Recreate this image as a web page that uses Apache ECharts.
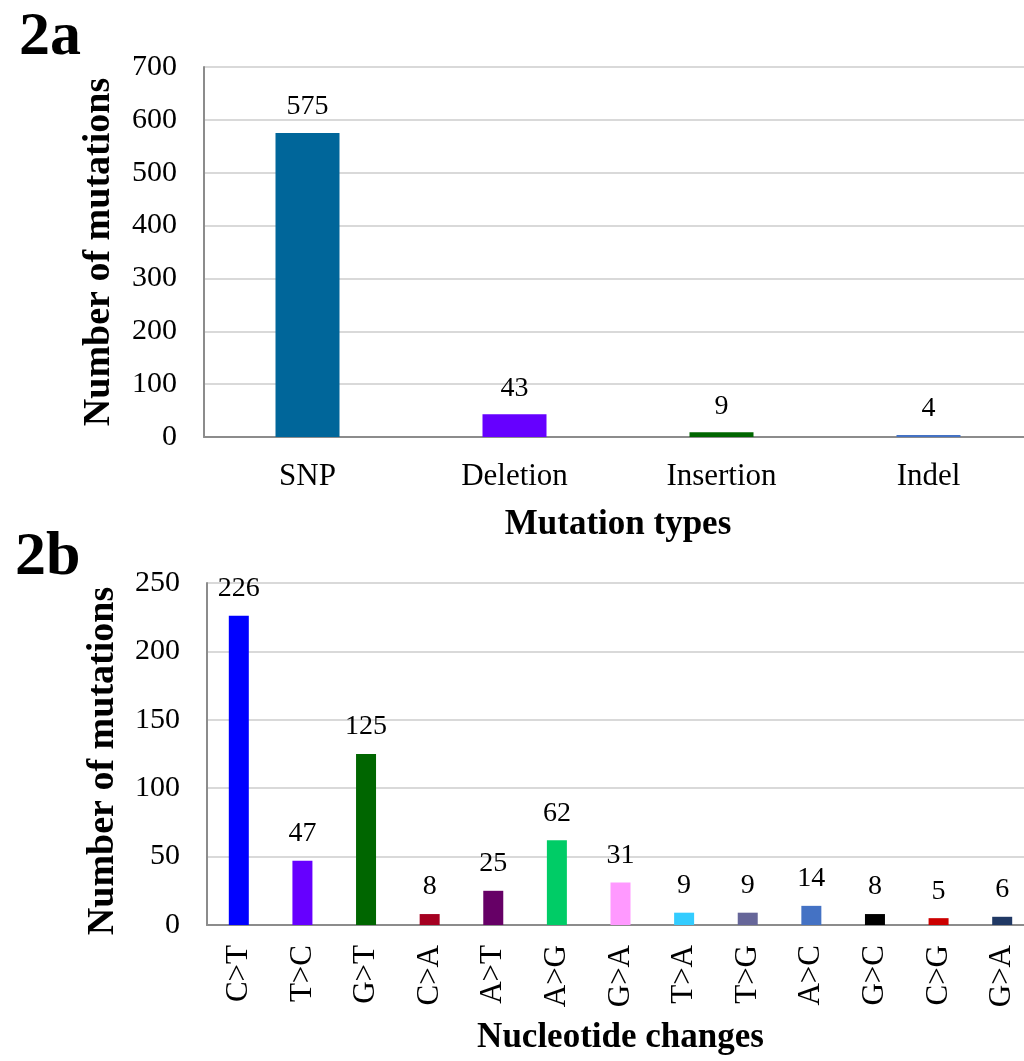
<!DOCTYPE html>
<html>
<head>
<meta charset="utf-8">
<script src="https://cdn.jsdelivr.net/npm/echarts@6/dist/echarts.min.js"></script>
<style>
html,body{margin:0;padding:0;background:#fff;}
#chart{width:1024px;height:1061px;}
</style>
</head>
<body>
<div id="chart"></div>
<script>
// Panel 2a
var typeCategories = ['SNP', 'Deletion', 'Insertion', 'Indel'];
var typeValues = [575, 43, 9, 4];
var typeColors = ['#00669A', '#6600FF', '#006600', '#4472C4'];
var typeTicks = [0, 100, 200, 300, 400, 500, 600, 700];

// Panel 2b
var changeCategories = ['C>T', 'T>C', 'G>T', 'C>A', 'A>T', 'A>G', 'G>A', 'T>A', 'T>G', 'A>C', 'G>C', 'C>G', 'G>A'];
var changeValues = [226, 47, 125, 8, 25, 62, 31, 9, 9, 14, 8, 5, 6];
var changeColors = ['#0000FF', '#6600FF', '#006600', '#A50021', '#660066', '#00CC66', '#FF99FF', '#33CCFF', '#666699', '#4472C4', '#000000', '#CC0000', '#203864'];
var changeTicks = [0, 50, 100, 150, 200, 250];

var FONT = '"Liberation Serif", "Times New Roman", serif';
var chart = echarts.init(document.getElementById('chart'));

function colored(vals, cols) {
  return vals.map(function (v, i) { return { value: v, itemStyle: { color: cols[i] } }; });
}

var axisLine = { show: true, lineStyle: { color: '#8c8c8c', width: 2 } };
var splitLine = { show: true, lineStyle: { color: '#d9d9d9', width: 2 } };

chart.setOption({
  animation: false,
  backgroundColor: '#ffffff',
  title: [
    { text: '2a', left: 14, top: 2, textStyle: { fontFamily: FONT, fontSize: 62, fontWeight: 'bold', color: '#000' } },
    { text: '2b', left: 10, top: 522, textStyle: { fontFamily: FONT, fontSize: 62, fontWeight: 'bold', color: '#000' } }
  ],
  grid: [
    { left: 204, top: 67, width: 828, height: 370, outerBoundsMode: 'none', containLabel: false },
    { left: 207, top: 583, width: 827, height: 342, outerBoundsMode: 'none', containLabel: false }
  ],
  xAxis: [
    {
      gridIndex: 0, type: 'category', data: typeCategories,
      axisLine: axisLine, axisTick: { show: false },
      axisLabel: { fontFamily: FONT, fontSize: 31, color: '#000', margin: 24 },
      name: 'Mutation types', nameLocation: 'middle', nameGap: 70,
      nameTextStyle: { fontFamily: FONT, fontSize: 35, fontWeight: 'bold', color: '#000' }
    },
    {
      gridIndex: 1, type: 'category', data: changeCategories,
      axisLine: axisLine, axisTick: { show: false },
      axisLabel: { fontFamily: FONT, fontSize: 31, color: '#000', rotate: 90, margin: 20, interval: 0 },
      name: 'Nucleotide changes', nameLocation: 'middle', nameGap: 95,
      nameTextStyle: { fontFamily: FONT, fontSize: 35, fontWeight: 'bold', color: '#000' }
    }
  ],
  yAxis: [
    {
      gridIndex: 0, type: 'value', min: typeTicks[0], max: typeTicks[typeTicks.length - 1], interval: 100,
      axisLine: axisLine, axisTick: { show: false }, splitLine: splitLine,
      axisLabel: { fontFamily: FONT, fontSize: 30, color: '#000', margin: 27 },
      name: 'Number of mutations', nameLocation: 'middle', nameGap: 86,
      nameTextStyle: { fontFamily: FONT, fontSize: 38, fontWeight: 'bold', color: '#000' }
    },
    {
      gridIndex: 1, type: 'value', min: changeTicks[0], max: changeTicks[changeTicks.length - 1], interval: 50,
      axisLine: axisLine, axisTick: { show: false }, splitLine: splitLine,
      axisLabel: { fontFamily: FONT, fontSize: 30, color: '#000', margin: 27 },
      name: 'Number of mutations', nameLocation: 'middle', nameGap: 85,
      nameTextStyle: { fontFamily: FONT, fontSize: 38, fontWeight: 'bold', color: '#000', padding: [0, 14, 0, 0] }
    }
  ],
  series: [
    {
      type: 'bar', xAxisIndex: 0, yAxisIndex: 0, barWidth: 64,
      data: colored(typeValues, typeColors),
      label: { show: true, position: 'top', distance: 12, fontFamily: FONT, fontSize: 28, color: '#000' }
    },
    {
      type: 'bar', xAxisIndex: 1, yAxisIndex: 1, barWidth: 20,
      data: colored(changeValues, changeColors),
      label: { show: true, position: 'top', distance: 13, fontFamily: FONT, fontSize: 28, color: '#000' }
    }
  ]
});
</script>
</body>
</html>
